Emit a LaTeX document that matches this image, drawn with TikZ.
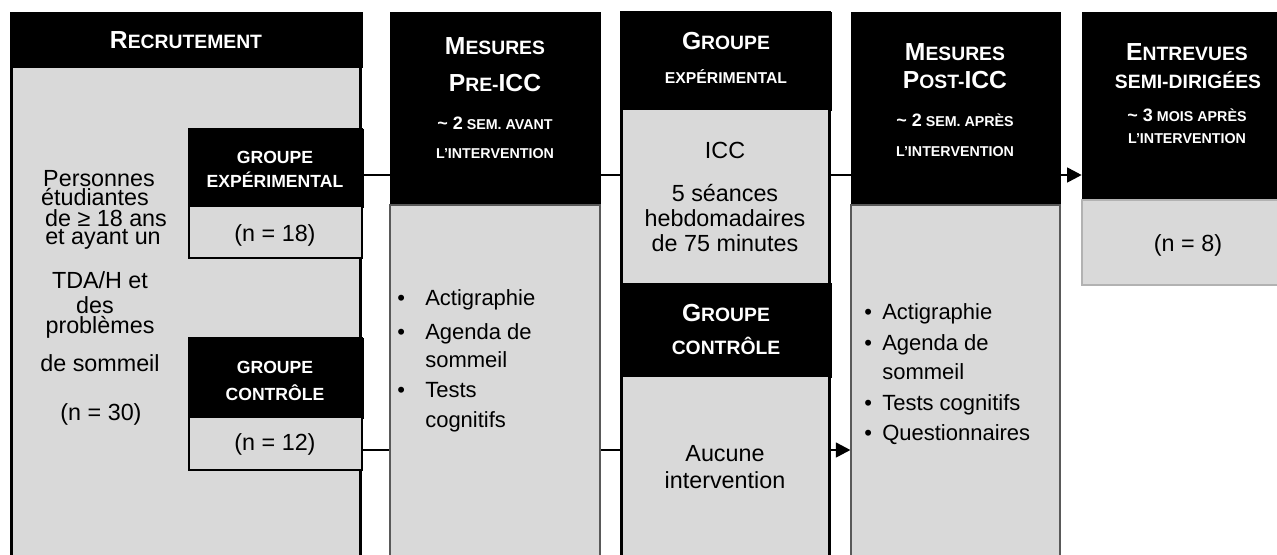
\documentclass[tikz,border=0pt]{standalone}
\usepackage{fontspec}
\setmainfont{Liberation Sans}
\usepackage{xcolor}
\usepackage{tikz}
\usetikzlibrary{positioning,fit,backgrounds,arrows.meta}
\definecolor{boxgray}{RGB}{217,217,217}
\newcommand{\bigc}[1]{{\fontsize{18.5pt}{21pt}\selectfont #1}}
\newcommand{\smc}[1]{{\fontsize{14.5pt}{17pt}\selectfont #1}}
\newcommand{\bigs}[1]{{\fontsize{13.5pt}{16pt}\selectfont #1}}
\newcommand{\sms}[1]{{\fontsize{10.7pt}{13pt}\selectfont #1}}

\begin{document}
\begin{tikzpicture}[x=0.75pt,y=-0.75pt]
	\tikzset{
		hdr/.style={fill=black, draw=black, inner sep=0pt},
		bodybox/.style={fill=boxgray, draw=gray!70!black, line width=0.8pt, inner sep=0pt},
		frame/.style={draw=black, line width=2.2pt, inner sep=0pt},
		txt/.style={font=\fontsize{17.5pt}{21pt}\selectfont, text height=12.5pt,
			text depth=0pt, inner sep=0pt},
		btxt/.style={font=\fontsize{16.5pt}{20pt}\selectfont, text height=11.8pt,
			text depth=0pt, inner sep=0pt, anchor=west},
		htxt/.style={text=white, font=\bfseries, text height=13pt, text depth=0pt, inner sep=0pt},
		stxt/.style={text=white, font=\bfseries, text height=9pt, text depth=0pt, inner sep=0pt},
		gtxt/.style={text=white, font=\bfseries\fontsize{13.2pt}{15pt}\selectfont, text height=9.5pt,
			text depth=0pt, inner sep=0pt},
		link/.style={draw=black, line width=2pt},
		tip/.style={-{Triangle[length=11pt,width=11pt]}}
	}
	\useasboundingbox (0,0) rectangle (1277,554);
	
	% RECRUTEMENT
	\node[hdr, fit={(10,12) (362,67)}] (recH) {};
	\node[fill=boxgray, draw=black, line width=2.2pt, inner sep=0pt, fit={(11.5,67) (360.5,570)}] (recB) {};
	\node[htxt] (recT) at (186,40) {\bigc{R}\smc{ECRUTEMENT}};
	
	\node[txt] (rec1) at (99,178) {Personnes};
	\node[txt] (rec2) at (95,197) {étudiantes};
	\node[txt] (rec3) at (106,218) {de ≥ 18 ans};
	\node[txt] (rec4) at (103,236) {et ayant un};
	\node[txt] (rec5) at (100,280) {TDA/H et};
	\node[txt] (rec6) at (95,305) {des};
	\node[txt] (rec7) at (100,325) {problèmes};
	\node[txt] (rec8) at (100,363) {de sommeil};
	\node[txt] (rec9) at (101,412) {(n = 30)};
	
	\node[hdr, fit={(188,129) (363,207)}] (gexpH) {};
	\node[fill=boxgray, inner sep=0pt, fit={(188,207) (363,258)}] (gexpB) {};
	\node[draw=black, line width=1.5pt, inner sep=0pt, fit={(189,129) (362,258)}] (gexp) {};
	\node[gtxt] (gexpT1) at (275,157) {GROUPE};
	\node[gtxt] (gexpT2) at (275,181) {EXPÉRIMENTAL};
	\node[txt] (gexpN) at (275,233) {(n = 18)};
	
	\node[hdr, fit={(188,338) (363,418)}] (gctlH) {};
	\node[fill=boxgray, inner sep=0pt, fit={(188,418) (363,470)}] (gctlB) {};
	\node[draw=black, line width=1.5pt, inner sep=0pt, fit={(189,338) (362,470)}] (gctl) {};
	\node[gtxt] (gctlT1) at (275,367) {GROUPE};
	\node[gtxt] (gctlT2) at (275,394) {CONTRÔLE};
	\node[txt] (gctlN) at (275,442) {(n = 12)};
	
	% MESURES PRE-ICC
	\node[hdr, fit={(390,12) (600,205)}] (preH) {};
	\node[bodybox, fit={(390,205) (600,570)}] (preB) {};
	\node[htxt] (preT1) at (495,46) {\bigc{M}\smc{ESURES}};
	\node[htxt] (preT2) at (495,83) {\bigc{P}\smc{RE-}\bigc{ICC}};
	\node[stxt] (preT3) at (495,123) {\bigs{\textasciitilde{} 2}\sms{ SEM. AVANT}};
	\node[stxt] (preT4) at (495,152) {\sms{L’INTERVENTION}};
	
	\node[btxt] (preL1) at (425,298) {Actigraphie};
	\node[btxt] (preL2) at (425,332) {Agenda de};
	\node[btxt] (preL3) at (425,360) {sommeil};
	\node[btxt] (preL4) at (425,390) {Tests};
	\node[btxt] (preL5) at (425,420) {cognitifs};
	\node[btxt] (preD1) at (397,298) {•};
	\node[btxt] (preD2) at (397,332) {•};
	\node[btxt] (preD4) at (397,390) {•};
	
	% GROUPES ICC / CONTROLE
	\node[hdr, fit={(620,12) (831,110)}] (expH) {};
	\node[fill=boxgray, inner sep=0pt, fit={(620,110) (831,283)}] (expB) {};
	\node[hdr, fit={(620,283) (831,377)}] (ctlH) {};
	\node[fill=boxgray, inner sep=0pt, fit={(620,377) (831,570)}] (ctlB) {};
	\node[frame, fit={(621.5,12) (829.5,570)}] (expF) {};
	\node[htxt] (expT1) at (726,41) {\bigc{G}\smc{ROUPE}};
	\node[htxt] (expT2) at (726,75) {\fontsize{11.8pt}{14pt}\selectfont EXPÉRIMENTAL};
	\node[txt] (expL1) at (725,150) {ICC};
	\node[txt] (expL2) at (725,193) {5 séances};
	\node[txt] (expL3) at (725,218) {hebdomadaires};
	\node[txt] (expL4) at (725,243) {de 75 minutes};
	\node[htxt] (ctlT1) at (726,313) {\bigc{G}\smc{ROUPE}};
	\node[htxt] (ctlT2) at (726,346) {\smc{CONTRÔLE}};
	\node[txt] (ctlL1) at (725,453) {Aucune};
	\node[txt] (ctlL2) at (725,480) {intervention};
	
	% MESURES POST-ICC
	\node[hdr, fit={(851,12) (1060,205)}] (postH) {};
	\node[bodybox, fit={(851,205) (1060,570)}] (postB) {};
	\node[htxt] (postT1) at (955,52) {\bigc{M}\smc{ESURES}};
	\node[htxt] (postT2) at (955,80) {\bigc{P}\smc{OST-}\bigc{ICC}};
	\node[stxt] (postT3) at (955,120) {\bigs{\textasciitilde{} 2}\sms{ SEM. APRÈS}};
	\node[stxt] (postT4) at (955,150) {\sms{L’INTERVENTION}};
	
	\node[btxt] (postL1) at (882,312) {Actigraphie};
	\node[btxt] (postL2) at (882,343) {Agenda de};
	\node[btxt] (postL3) at (882,372) {sommeil};
	\node[btxt] (postL4) at (882,403) {Tests cognitifs};
	\node[btxt] (postL5) at (882,433) {Questionnaires};
	\node[btxt] (postD1) at (864,312) {•};
	\node[btxt] (postD2) at (864,343) {•};
	\node[btxt] (postD4) at (864,403) {•};
	\node[btxt] (postD5) at (864,433) {•};
	
	% ENTREVUES
	\node[hdr, fit={(1082,12) (1290,200)}] (entH) {};
	\node[fill=boxgray, draw=gray!60, line width=0.8pt, inner sep=0pt, fit={(1082,200) (1290,285)}] (entB) {};
	\node[htxt] (entT1) at (1187,52) {\bigc{E}\smc{NTREVUES}};
	\node[htxt] (entT2) at (1188,80) {\smc{SEMI-DIRIGÉES}};
	\node[stxt] (entT3) at (1187,115) {\bigs{\textasciitilde{} 3}\sms{ MOIS APRÈS}};
	\node[stxt] (entT4) at (1187,137) {\sms{L’INTERVENTION}};
	\node[txt] (entN) at (1188,243) {(n = 8)};
	
	% liens
	\coordinate (up) at (gexp.east |- 0,175);
	\coordinate (lo) at (gctl.east |- 0,450);
	\begin{scope}[on background layer]
		\draw[link, tip] (up) -- (entH.west |- up);
		\draw[link, tip] (lo) -- (postB.west |- lo);
	\end{scope}
\end{tikzpicture}
\end{document}
